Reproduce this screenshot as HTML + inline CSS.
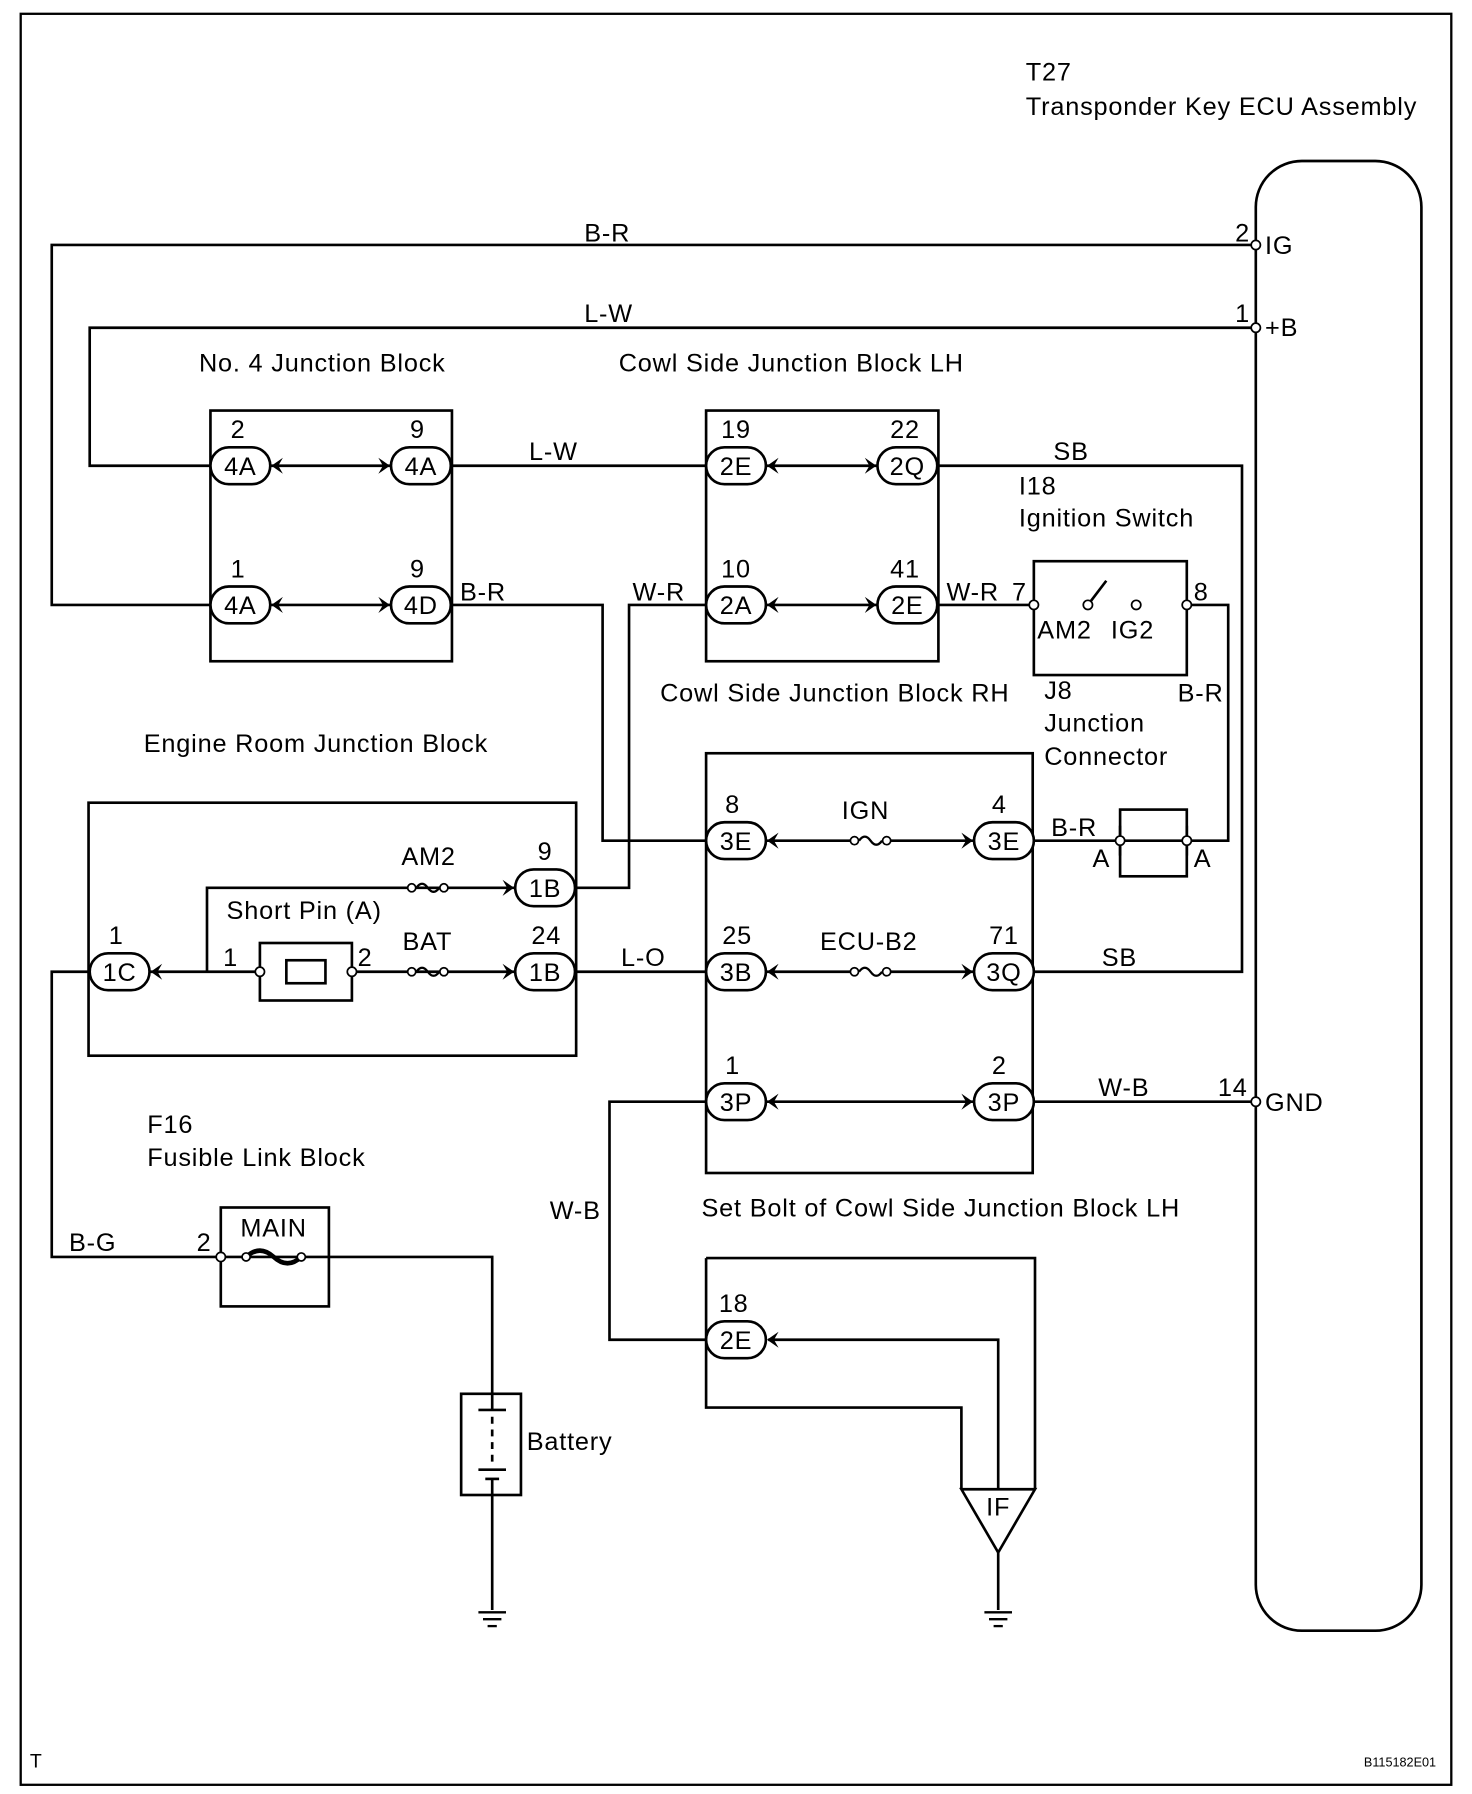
<!DOCTYPE html>
<html><head><meta charset="utf-8"><style>
html,body{margin:0;padding:0;background:#fff}
svg{display:block}
text{font-family:"Liberation Sans",sans-serif;font-size:22px;letter-spacing:0.7px;fill:#000}
</style></head><body>
<svg width="1472" height="1794" viewBox="0 0 1280 1560" xmlns="http://www.w3.org/2000/svg">
<defs>
<g id="la"><path d="M0,0 L10,-7 L6,0 L10,7 Z" fill="#000"/></g>
<g id="ra"><path d="M0,0 L-10,-7 L-6,0 L-10,7 Z" fill="#000"/></g>
<g id="fuse"><circle cx="-14" cy="0" r="3.5" fill="#fff" stroke="#000" stroke-width="1.5"/><circle cx="14" cy="0" r="3.5" fill="#fff" stroke="#000" stroke-width="1.5"/><path d="M-10,0 Q-5,-7 0,0 Q5,7 10,0" fill="none" stroke="#000" stroke-width="2"/></g>
<g id="gnd"><line x1="-12" y1="0" x2="12" y2="0" stroke="#000" stroke-width="2"/><line x1="-8" y1="6" x2="8" y2="6" stroke="#000" stroke-width="2"/><line x1="-4" y1="12" x2="4" y2="12" stroke="#000" stroke-width="2"/></g>
</defs>
<rect x="18" y="12" width="1244" height="1540" fill="none" stroke="#000" stroke-width="2"/>
<g fill="none" stroke="#000" stroke-width="2.3">
<rect x="1092" y="140" width="144" height="1278" rx="40"/>
<rect x="183" y="357" width="210" height="218"/>
<rect x="614" y="357" width="202" height="218"/>
<rect x="899" y="488" width="133" height="99"/>
<rect x="614" y="655" width="284" height="365"/>
<rect x="77" y="698" width="424" height="220"/>
<rect x="974" y="704" width="58" height="58"/>
<rect x="226" y="820" width="80" height="50"/>
<rect x="249" y="835" width="34" height="20"/>
<rect x="192" y="1050" width="94" height="86"/>
<rect x="401" y="1212" width="52" height="88"/>
<polyline points="183,526 45,526 45,213 1092,213"/>
<polyline points="183,405 78,405 78,285 1092,285"/>
<line x1="233" y1="405" x2="340" y2="405"/><line x1="233" y1="526" x2="340" y2="526"/>
<line x1="390" y1="405" x2="614" y2="405"/>
<line x1="665" y1="405" x2="763" y2="405"/><line x1="665" y1="526" x2="763" y2="526"/>
<polyline points="814,405 1080,405 1080,845 898,845"/>
<polyline points="390,526 524,526 524,731 614,731"/>
<polyline points="614,526 547,526 547,772 500,772"/>
<line x1="816" y1="526" x2="899" y2="526"/>
<polyline points="1032,526 1068,526 1068,731 1032,731"/>
<line x1="898" y1="731" x2="1032" y2="731"/>
<line x1="974" y1="718" x2="974" y2="744"/><line x1="1032" y1="718" x2="1032" y2="744"/>
<line x1="665" y1="731" x2="743" y2="731"/><line x1="771" y1="731" x2="847" y2="731"/>
<line x1="665" y1="845" x2="743" y2="845"/><line x1="771" y1="845" x2="847" y2="845"/>
<line x1="665" y1="958" x2="847" y2="958"/>
<line x1="898" y1="958" x2="1092" y2="958"/>
<polyline points="614,958 530,958 530,1165 614,1165"/>
<polyline points="614,1094 900,1094 900,1295"/>
<polyline points="614,1094 614,1224 836,1224 836,1295"/>
<polygon points="836,1295 900,1295 868,1350"/>
<polyline points="668,1165 868,1165 868,1295"/>
<line x1="868" y1="1350" x2="868" y2="1400"/>
<polyline points="448,772 180,772 180,845"/>
<line x1="130" y1="845" x2="226" y2="845"/>
<line x1="306" y1="845" x2="448" y2="845"/>
<line x1="500" y1="845" x2="614" y2="845"/>
<polyline points="78,845 45,845 45,1093 192,1093"/>
<line x1="192" y1="1093" x2="286" y2="1093"/>
<polyline points="286,1093 428,1093 428,1212"/>
<line x1="428" y1="1300" x2="428" y2="1400"/>
<line x1="428" y1="1212" x2="428" y2="1226"/>
<line x1="416" y1="1226" x2="440" y2="1226"/>
<line x1="428" y1="1232" x2="428" y2="1272" stroke-dasharray="6,5"/>
<line x1="416" y1="1278" x2="440" y2="1278"/><line x1="422" y1="1286" x2="434" y2="1286"/>
<line x1="428" y1="1286" x2="428" y2="1300"/>
<line x1="946" y1="526" x2="962" y2="505"/>
<path d="M214,1093 Q226,1082 238,1093 Q250,1104 262,1093" stroke-width="4"/>
</g>
<g fill="#fff" stroke="#000" stroke-width="1.5">
<circle cx="1092" cy="213" r="4"/><circle cx="1092" cy="285" r="4"/><circle cx="1092" cy="958" r="4"/>
<circle cx="899" cy="526" r="4"/><circle cx="1032" cy="526" r="4"/><circle cx="946" cy="526" r="4"/><circle cx="988" cy="526" r="4"/>
<circle cx="974" cy="731" r="4"/><circle cx="1032" cy="731" r="4"/>
<circle cx="226" cy="845" r="4"/><circle cx="306" cy="845" r="4"/>
<circle cx="192" cy="1093" r="4"/><circle cx="214" cy="1093" r="3.5"/><circle cx="262" cy="1093" r="3.5"/>
</g>
<use href="#fuse" x="757" y="731"/><use href="#fuse" x="757" y="845"/>
<use href="#fuse" x="372" y="772"/><use href="#fuse" x="372" y="845"/>
<use href="#gnd" x="868" y="1402"/><use href="#gnd" x="428" y="1402"/>
<g fill="#fff" stroke="#000" stroke-width="2.3">
<rect x="183" y="389" width="52" height="32" rx="16"/><rect x="340" y="389" width="52" height="32" rx="16"/>
<rect x="183" y="510" width="52" height="32" rx="16"/><rect x="340" y="510" width="52" height="32" rx="16"/>
<rect x="614" y="389" width="52" height="32" rx="16"/><rect x="763" y="389" width="52" height="32" rx="16"/>
<rect x="614" y="510" width="52" height="32" rx="16"/><rect x="763" y="510" width="52" height="32" rx="16"/>
<rect x="614" y="715" width="52" height="32" rx="16"/><rect x="847" y="715" width="52" height="32" rx="16"/>
<rect x="614" y="829" width="52" height="32" rx="16"/><rect x="847" y="829" width="52" height="32" rx="16"/>
<rect x="614" y="942" width="52" height="32" rx="16"/><rect x="847" y="942" width="52" height="32" rx="16"/>
<rect x="614" y="1149" width="52" height="32" rx="16"/>
<rect x="448" y="756" width="52" height="32" rx="16"/><rect x="448" y="829" width="52" height="32" rx="16"/>
<rect x="78" y="829" width="52" height="32" rx="16"/>
</g>
<use href="#la" x="236" y="405"/><use href="#ra" x="339" y="405"/>
<use href="#la" x="236" y="526"/><use href="#ra" x="339" y="526"/>
<use href="#la" x="667" y="405"/><use href="#ra" x="762" y="405"/>
<use href="#la" x="667" y="526"/><use href="#ra" x="762" y="526"/>
<use href="#la" x="667" y="731"/><use href="#ra" x="846" y="731"/>
<use href="#la" x="667" y="845"/><use href="#ra" x="846" y="845"/>
<use href="#la" x="667" y="958"/><use href="#ra" x="846" y="958"/>
<use href="#la" x="667" y="1165"/>
<use href="#ra" x="447" y="772"/><use href="#ra" x="447" y="845"/>
<use href="#la" x="131" y="845"/>
<g text-anchor="middle" style="letter-spacing:0">
<text x="209" y="413">4A</text><text x="366" y="413">4A</text><text x="209" y="534">4A</text><text x="366" y="534">4D</text>
<text x="640" y="413">2E</text><text x="789" y="413">2Q</text><text x="640" y="534">2A</text><text x="789" y="534">2E</text>
<text x="640" y="739">3E</text><text x="873" y="739">3E</text><text x="640" y="853">3B</text><text x="873" y="853">3Q</text>
<text x="640" y="966">3P</text><text x="873" y="966">3P</text><text x="640" y="1173">2E</text>
<text x="474" y="780">1B</text><text x="474" y="853">1B</text><text x="104" y="853">1C</text>
<text x="207" y="381">2</text><text x="363" y="381">9</text><text x="207" y="502">1</text><text x="363" y="502">9</text>
<text x="640" y="381">19</text><text x="787" y="381">22</text><text x="640" y="502">10</text><text x="787" y="502">41</text>
<text x="637" y="707">8</text><text x="869" y="707">4</text><text x="641" y="821">25</text><text x="873" y="821">71</text>
<text x="637" y="934">1</text><text x="869" y="934">2</text><text x="638" y="1141">18</text>
<text x="474" y="748">9</text><text x="475" y="821">24</text><text x="101" y="821">1</text>
<text x="868" y="1318">IF</text>
</g>
<text x="892" y="70">T27</text>
<text x="892" y="100">Transponder Key ECU Assembly</text>
<text x="508" y="210">B-R</text><text x="1074" y="210">2</text><text x="1100" y="221">IG</text>
<text x="508" y="280">L-W</text><text x="1074" y="280">1</text><text x="1100" y="292">+B</text>
<text x="173" y="323">No. 4 Junction Block</text>
<text x="538" y="323">Cowl Side Junction Block LH</text>
<text x="460" y="400">L-W</text><text x="916" y="400">SB</text>
<text x="886" y="430">I18</text><text x="886" y="458">Ignition Switch</text>
<text x="400" y="522">B-R</text><text x="550" y="522">W-R</text><text x="823" y="522">W-R</text><text x="880" y="522">7</text><text x="1038" y="522">8</text>
<text x="902" y="555">AM2</text><text x="966" y="555">IG2</text>
<text x="574" y="610">Cowl Side Junction Block RH</text>
<text x="908" y="608">J8</text><text x="1024" y="610">B-R</text>
<text x="908" y="636">Junction</text><text x="908" y="665">Connector</text>
<text x="125" y="654">Engine Room Junction Block</text>
<text x="732" y="712">IGN</text><text x="914" y="727">B-R</text>
<text x="950" y="754">A</text><text x="1038" y="754">A</text>
<text x="349" y="752">AM2</text><text x="197" y="799">Short Pin (A)</text>
<text x="350" y="826">BAT</text><text x="713" y="826">ECU-B2</text>
<text x="194" y="840">1</text><text x="311" y="840">2</text>
<text x="540" y="840">L-O</text><text x="958" y="840">SB</text>
<text x="955" y="953">W-B</text><text x="1059" y="953">14</text><text x="1100" y="966">GND</text>
<text x="128" y="985">F16</text><text x="128" y="1014">Fusible Link Block</text>
<text x="478" y="1060">W-B</text><text x="610" y="1058">Set Bolt of Cowl Side Junction Block LH</text>
<text x="209" y="1075">MAIN</text><text x="60" y="1088">B-G</text><text x="171" y="1088">2</text>
<text x="458" y="1261">Battery</text>
<text x="26" y="1537" style="font-size:17px;letter-spacing:0">T</text>
<text x="1186" y="1536" style="font-size:11px;letter-spacing:0">B115182E01</text>
</svg>
</body></html>
